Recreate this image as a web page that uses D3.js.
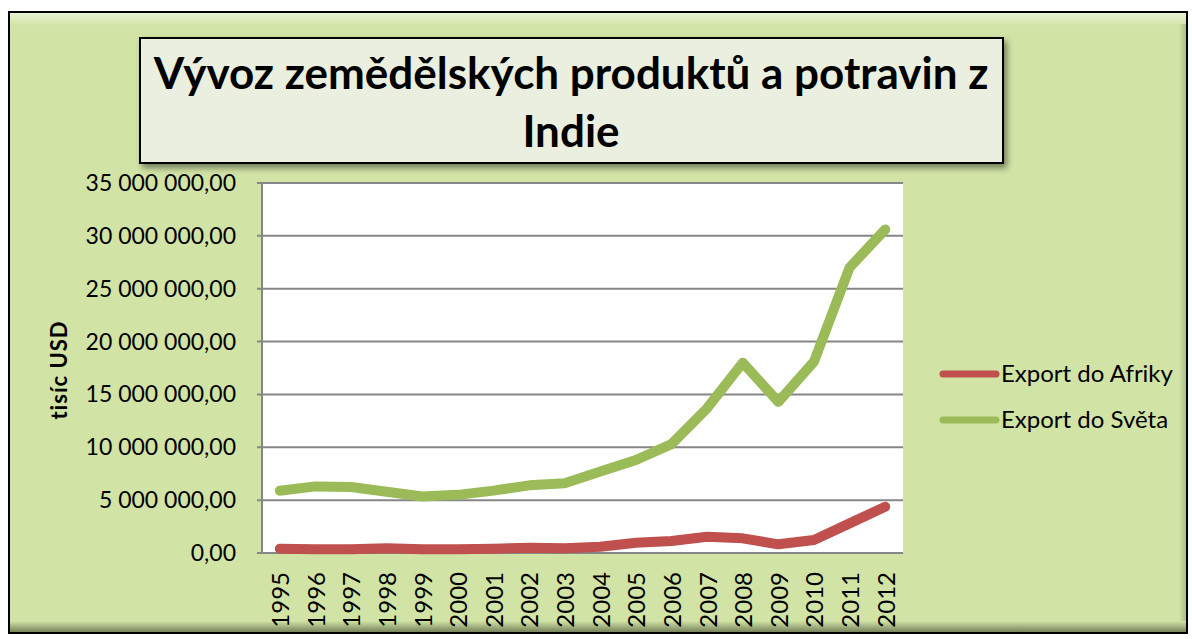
<!DOCTYPE html>
<html>
<head>
<meta charset="utf-8">
<style>
  body { margin: 0; background: #ffffff; }
  text { font-family: Lato, "Open Sans", sans-serif; fill: #000; }
</style>
</head>
<body>
<script src="https://cdn.jsdelivr.net/npm/d3@7/dist/d3.min.js"></script>
<script>

  var years = ["1995", "1996", "1997", "1998", "1999", "2000", "2001", "2002", "2003",
               "2004", "2005", "2006", "2007", "2008", "2009", "2010", "2011", "2012"];

  // tisíc USD
  var exportAfrika = [400000, 350000, 350000, 450000, 350000, 350000, 400000, 500000, 450000,
                      600000, 970000, 1130000, 1540000, 1390000, 820000, 1230000, 2800000, 4380000];
  var exportSvet = [5890000, 6300000, 6250000, 5800000, 5350000, 5500000, 5900000, 6400000, 6600000,
                    7700000, 8800000, 10300000, 13700000, 18000000, 14300000, 18100000, 27000000, 30600000];

  var seriesNames = ["Export do Afriky", "Export do Světa"];
  var seriesColors = ["#c0504d", "#9bbb59"];
  var yTicks = [0, 5000000, 10000000, 15000000, 20000000, 25000000, 30000000, 35000000];

  var width = 1192;
  var height = 639;

  var svg = d3.select("body")
      .append("svg")
      .attr("width", width)
      .attr("height", height);

  var defs = svg.append("defs");

  var shadow = defs.append("filter")
      .attr("id", "shadow")
      .attr("x", "-10%").attr("y", "-20%")
      .attr("width", "130%").attr("height", "150%");
  shadow.append("feDropShadow")
      .attr("dx", 3).attr("dy", 4)
      .attr("stdDeviation", 3)
      .attr("flood-color", "#000")
      .attr("flood-opacity", 0.45);

  // bevel gradients for the chart area frame
  var topGrad = defs.append("linearGradient").attr("id", "bevTop")
      .attr("x1", 0).attr("y1", 0).attr("x2", 0).attr("y2", 1);
  topGrad.append("stop").attr("offset", 0).attr("stop-color", "#eaf2d6");
  topGrad.append("stop").attr("offset", 1).attr("stop-color", "#d1e3a5");

  var botGrad = defs.append("linearGradient").attr("id", "bevBot")
      .attr("x1", 0).attr("y1", 0).attr("x2", 0).attr("y2", 1);
  botGrad.append("stop").attr("offset", 0).attr("stop-color", "#d1e3a5");
  botGrad.append("stop").attr("offset", 1).attr("stop-color", "#6f7a55");

  var rightGrad = defs.append("linearGradient").attr("id", "bevRight")
      .attr("x1", 0).attr("y1", 0).attr("x2", 1).attr("y2", 0);
  rightGrad.append("stop").attr("offset", 0).attr("stop-color", "#d1e3a5");
  rightGrad.append("stop").attr("offset", 1).attr("stop-color", "#a7b784");

  // chart area
  var outer = { x: 9, y: 12, w: 1178, h: 621 };

  svg.append("rect")
      .attr("x", outer.x).attr("y", outer.y)
      .attr("width", outer.w).attr("height", outer.h)
      .attr("fill", "#d1e3a5");

  svg.append("rect")
      .attr("x", outer.x).attr("y", outer.y)
      .attr("width", outer.w).attr("height", 14)
      .attr("fill", "url(#bevTop)");
  svg.append("rect")
      .attr("x", outer.x).attr("y", outer.y + outer.h - 12)
      .attr("width", outer.w).attr("height", 12)
      .attr("fill", "url(#bevBot)");
  svg.append("rect")
      .attr("x", outer.x + outer.w - 8).attr("y", outer.y + 12)
      .attr("width", 8).attr("height", outer.h - 24)
      .attr("fill", "url(#bevRight)");

  svg.append("rect")
      .attr("x", outer.x).attr("y", outer.y)
      .attr("width", outer.w).attr("height", outer.h)
      .attr("fill", "none")
      .attr("stroke", "#000")
      .attr("stroke-width", 2);

  // plot area
  var plot = { left: 262, top: 183, right: 903, bottom: 553 };

  svg.append("rect")
      .attr("x", plot.left).attr("y", plot.top)
      .attr("width", plot.right - plot.left)
      .attr("height", plot.bottom - plot.top)
      .attr("fill", "#fff");

  var x = d3.scaleBand()
      .domain(years)
      .range([plot.left, plot.right]);

  var y = d3.scaleLinear()
      .domain([0, 35000000])
      .range([plot.bottom, plot.top]);

  var fmt = function (v) {
    return d3.format(",.2f")(v).replace(/,/g, " ").replace(".", ",");
  };

  // gridlines
  svg.append("g")
      .selectAll("line")
      .data(yTicks)
      .enter()
        .append("line")
        .attr("x1", plot.left - 5)
        .attr("x2", plot.right)
        .attr("y1", function (d) { return y(d); })
        .attr("y2", function (d) { return y(d); })
        .attr("stroke", "#868686")
        .attr("stroke-width", 2);

  svg.append("line")
      .attr("x1", plot.left).attr("x2", plot.left)
      .attr("y1", plot.top).attr("y2", plot.bottom)
      .attr("stroke", "#868686")
      .attr("stroke-width", 2);

  // y tick labels
  svg.append("g")
      .selectAll("text")
      .data(yTicks)
      .enter()
        .append("text")
        .attr("x", 236)
        .attr("y", function (d) { return y(d); })
        .attr("dy", "0.35em")
        .attr("text-anchor", "end")
        .style("font-size", "23px")
        .text(fmt);

  // x tick labels
  svg.append("g")
      .selectAll("text")
      .data(years)
      .enter()
        .append("text")
        .attr("transform", function (d) {
          return "translate(" + (x(d) + x.bandwidth() / 2 + 1) + "," + 572 + ") rotate(-90)";
        })
        .attr("dy", "0.35em")
        .attr("text-anchor", "end")
        .style("font-size", "24px")
        .text(function (d) { return d; });

  // y axis title
  svg.append("text")
      .attr("transform", "translate(59,370) rotate(-90)")
      .attr("text-anchor", "middle")
      .attr("dy", "0.35em")
      .style("font-size", "22px")
      .style("font-weight", "bold")
      .style("letter-spacing", "1px")
      .text("tisíc USD");

  // lines
  var line = d3.line()
      .x(function (d, i) { return x(years[i]) + x.bandwidth() / 2; })
      .y(function (d) { return y(d); });

  [exportAfrika, exportSvet].forEach(function (values, k) {
    svg.append("path")
        .datum(values)
        .attr("d", line)
        .attr("fill", "none")
        .attr("stroke", seriesColors[k])
        .attr("stroke-width", 10)
        .attr("stroke-linejoin", "round")
        .attr("stroke-linecap", "round");
  });

  // legend
  var legend = svg.append("g")
      .selectAll("g")
      .data(seriesNames)
      .enter()
        .append("g")
        .attr("transform", function (d, i) { return "translate(0," + (374 + i * 46) + ")"; });

  legend.append("line")
      .attr("x1", 943).attr("x2", 996)
      .attr("stroke", function (d, i) { return seriesColors[i]; })
      .attr("stroke-width", 7)
      .attr("stroke-linecap", "round");

  legend.append("text")
      .attr("x", 1001)
      .attr("dy", "0.35em")
      .style("font-size", "24px")
      .text(function (d) { return d; });

  // title box
  svg.append("rect")
      .attr("x", 140).attr("y", 38)
      .attr("width", 863).attr("height", 125)
      .attr("fill", "#ebefdf")
      .attr("stroke", "#000")
      .attr("stroke-width", 2)
      .attr("filter", "url(#shadow)");

  var title = svg.append("text")
      .attr("x", 571)
      .attr("text-anchor", "middle")
      .style("font-size", "44px")
      .style("font-weight", "bold");
  title.append("tspan").attr("x", 571).attr("y", 89).text("Vývoz zemědělských produktů a potravin z");
  title.append("tspan").attr("x", 571).attr("y", 147).text("Indie");

</script>
</body>
</html>
